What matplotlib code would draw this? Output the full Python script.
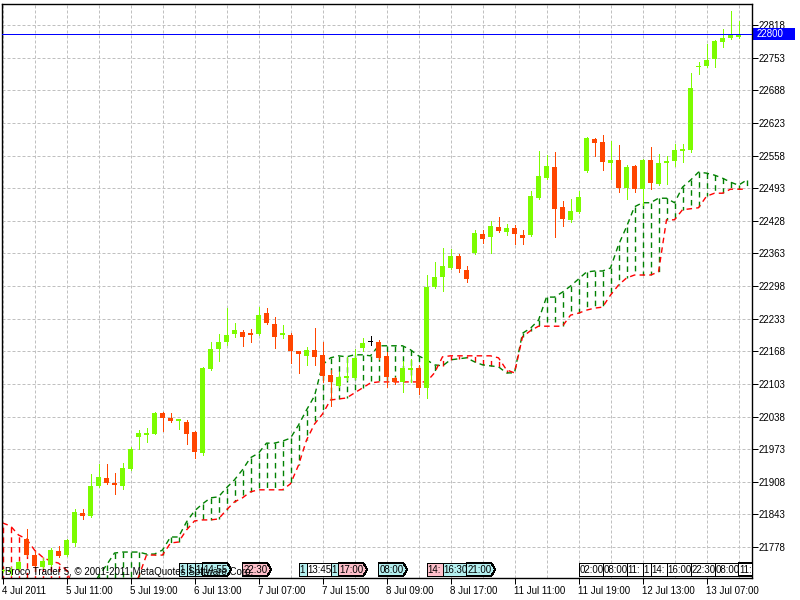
import numpy as np
import matplotlib.pyplot as plt
import matplotlib.transforms as mtransforms
from matplotlib.patches import Polygon, Rectangle

plt.rcParams['font.family'] = ['Liberation Sans', 'DejaVu Sans']

# H1 candles, 4 Jul 2011 .. 13 Jul 2011
opens = [21730, 21728, 21734, 21794, 21762, 21738, 21742, 21770, 21762, 21786,
         21846, 21840, 21900, 21916, 21906, 21900, 21934, 21997, 22001, 22003,
         22045, 22035, 22029, 22027, 22007, 21966, 22133, 22173, 22187, 22203,
         22206, 22205, 22203, 22244, 22222, 22201, 22201, 22169, 22159, 22171,
         22161, 22121, 22099, 22115, 22115, 22175, 22187, 22187, 22159, 22115,
         22107, 22131, 22135, 22095, 22296, 22316, 22334, 22358, 22330, 22364,
         22402, 22396, 22416, 22406, 22414, 22400, 22400, 22473, 22513, 22535,
         22456, 22430, 22446, 22527, 22591, 22585, 22543, 22549, 22493, 22537,
         22491, 22549, 22501, 22543, 22547, 22567, 22569, 22735, 22736, 22750,
         22784, 22792, 22794]
highs = [21734, 21738, 21750, 21814, 21770, 21756, 21776, 21780, 21794, 21854,
         21854, 21924, 21944, 21944, 21926, 21946, 21977, 22011, 22015, 22047,
         22047, 22045, 22033, 22031, 22009, 22137, 22187, 22203, 22254, 22224,
         22210, 22212, 22256, 22254, 22236, 22220, 22205, 22169, 22177, 22214,
         22187, 22131, 22127, 22157, 22173, 22195, 22199, 22191, 22167, 22117,
         22149, 22153, 22141, 22320, 22346, 22374, 22372, 22362, 22338, 22410,
         22410, 22428, 22436, 22422, 22420, 22410, 22487, 22567, 22559, 22565,
         22468, 22471, 22487, 22595, 22593, 22599, 22587, 22579, 22539, 22539,
         22551, 22575, 22561, 22557, 22581, 22581, 22723, 22744, 22780, 22788,
         22810, 22846, 22826]
lows = [21728, 21722, 21732, 21760, 21730, 21736, 21740, 21758, 21760, 21780,
        21834, 21838, 21898, 21904, 21884, 21894, 21932, 21973, 21987, 22003,
        22009, 22027, 22013, 21983, 21956, 21962, 22131, 22149, 22181, 22197,
        22179, 22187, 22201, 22222, 22175, 22195, 22145, 22125, 22141, 22141,
        22107, 22060, 22097, 22111, 22113, 22169, 22181, 22153, 22097, 22103,
        22087, 22107, 22083, 22075, 22294, 22288, 22332, 22326, 22306, 22362,
        22384, 22364, 22406, 22400, 22382, 22382, 22398, 22471, 22511, 22396,
        22418, 22426, 22444, 22525, 22557, 22529, 22511, 22485, 22471, 22485,
        22460, 22491, 22499, 22501, 22537, 22545, 22565, 22721, 22735, 22735,
        22774, 22790, 22793]
closes = [21732, 21732, 21748, 21762, 21740, 21750, 21772, 21760, 21792, 21848,
          21840, 21900, 21918, 21906, 21902, 21936, 21973, 22005, 22005, 22045,
          22035, 22029, 22033, 22003, 21968, 22135, 22173, 22187, 22201, 22211,
          22197, 22201, 22240, 22224, 22197, 22205, 22169, 22163, 22171, 22157,
          22119, 22107, 22117, 22119, 22155, 22185, 22187, 22155, 22117, 22107,
          22135, 22135, 22095, 22296, 22316, 22338, 22358, 22332, 22312, 22404,
          22392, 22418, 22408, 22414, 22402, 22394, 22477, 22517, 22537, 22452,
          22432, 22448, 22475, 22593, 22583, 22545, 22549, 22493, 22535, 22491,
          22549, 22503, 22543, 22547, 22569, 22571, 22693, 22737, 22748, 22786,
          22792, 22798, 22800]

# Ichimoku cloud (Senkou Span A / B), one value per bar
span_a = [21690, 21690, 21690, 21716, 21690, 21690, 21690, 21690, 21690, 21690,
          21690, 21690, 21720, 21742, 21766, 21768, 21768, 21768, 21764, 21764,
          21772, 21798, 21798, 21828, 21850, 21864, 21876, 21878, 21896, 21912,
          21932, 21956, 21965, 21985, 21985, 21989, 21995, 22021, 22051, 22079,
          22141, 22155, 22159, 22157, 22161, 22161, 22159, 22179, 22179, 22179,
          22179, 22171, 22159, 22151, 22141, 22139, 22151, 22153, 22155, 22147,
          22141, 22139, 22137, 22125, 22125, 22204, 22214, 22230, 22276, 22276,
          22286, 22298, 22312, 22326, 22328, 22328, 22334, 22380, 22416, 22456,
          22464, 22464, 22473, 22473, 22464, 22495, 22509, 22525, 22523, 22519,
          22513, 22505, 22499, 22509]
span_b = [21826, 21820, 21802, 21794, 21772, 21758, 21750, 21746, 21732, 21690,
          21690, 21690, 21690, 21690, 21690, 21690, 21690, 21718, 21762, 21762,
          21762, 21786, 21788, 21812, 21830, 21832, 21832, 21834, 21852, 21868,
          21876, 21888, 21892, 21892, 21892, 21892, 21904, 21941, 21991, 22023,
          22043, 22071, 22073, 22075, 22085, 22095, 22105, 22107, 22107, 22107,
          22107, 22107, 22107, 22107, 22125, 22157, 22159, 22159, 22159, 22159,
          22159, 22159, 22155, 22131, 22125, 22197, 22209, 22218, 22218, 22218,
          22218, 22240, 22244, 22250, 22254, 22256, 22280, 22300, 22314, 22320,
          22320, 22320, 22326, 22430, 22430, 22450, 22452, 22454, 22477, 22483,
          22483, 22491, 22491, 22491]

tick_bars = [0, 8, 16, 24, 32, 40, 48, 56, 64, 72, 80, 88]
tick_labels = ['4 Jul 2011', '5 Jul 11:00', '5 Jul 19:00', '6 Jul 13:00',
               '7 Jul 07:00', '7 Jul 15:00', '8 Jul 09:00', '8 Jul 17:00',
               '11 Jul 11:00', '11 Jul 19:00', '12 Jul 13:00', '13 Jul 07:00']
price_ticks = [21778 + 65 * i for i in range(17)]
last_price = 22800

# calendar events along the bottom
event_bars = [22, 23, 24, 25, 30, 37, 38, 41, 42, 47, 53, 55, 58,
              72, 75, 78, 80, 81, 83, 86, 89, 92]
event_text = ['1', '1', '1', '14:55', '22:30', '1', '13:45', '1', '17:00', '08:00',
              '14:', '16:30', '21:00', '02:00', '08:00', '11:', '1', '14:',
              '16:00', '22:30', '08:00', '11:']
event_kind = ['c', 'c', 'c', 'c', 'p', 'c', 'w', 'c', 'p', 'c', 'p', 'c', 'c',
              'w', 'w', 'w', 'w', 'w', 'w', 'w', 'w', 'w']
event_fill = {'c': '#B4F0F0', 'p': '#FFC0CB', 'w': '#FFFFFF'}

bull = '#7CFC00'
bear = '#FF4500'
px = 0.72  # one pixel in points
dash = (0, (4, 3))

fig = plt.figure(figsize=(8, 6), dpi=100)
ax = fig.add_axes([2 / 800, 22 / 600, 750 / 800, 574 / 600])
ax.set_xlim(-0.0625, 93.6875)
ax.set_ylim(21716.3, 22860)

# grid
ax.set_xticks(tick_bars)
ax.set_xticks(np.arange(0, 94, 4), minor=True)
ax.set_yticks(price_ticks)
ax.grid(True, which='both', color='#C0C0C0', linestyle=(0, (3, 2)), linewidth=px)
ax.set_axisbelow(True)

# cloud: hatching between the spans, then the span lines
k_cloud = np.arange(len(span_a))
a = np.array(span_a)
b = np.array(span_b)
hatch_col = ['#008000' if va >= vb else '#FF0000' for va, vb in zip(a, b)]
ax.vlines(k_cloud, a, b, colors=hatch_col, linestyles=dash,
          linewidth=1.0, zorder=2)
ax.plot(k_cloud, a, color='#008000', linestyle=dash, linewidth=1.0, zorder=2)
ax.plot(k_cloud, b, color='#FF0000', linestyle=dash, linewidth=1.0, zorder=2)

# candles
k = np.arange(len(opens))
o = np.array(opens)
c = np.array(closes)
cols = np.where(c > o, bull, np.where(c < o, bear, '#000000'))
ax.vlines(k, lows, highs, colors=cols, linewidth=px, antialiased=False, zorder=3)
body = np.abs(c - o)
ax.bar(k, np.maximum(body, 1.5), bottom=np.minimum(o, c), width=0.625,
       color=cols, linewidth=0, antialiased=False, zorder=4)

# last price line
ax.axhline(last_price, color='#0000FF', linewidth=px, zorder=5)
blend = mtransforms.blended_transform_factory(ax.transAxes, ax.transData)
ax.add_patch(Rectangle((1.0013, last_price - 12), 0.0565, 24, transform=blend,
                       facecolor='#0000FF', edgecolor='none', clip_on=False))
ax.text(1.006, last_price, str(last_price), transform=blend, color='white',
        fontsize=7, va='center', ha='left', clip_on=False)

# event flags
flag_tr = mtransforms.blended_transform_factory(ax.transData, ax.transAxes)
y0, y1 = 0.0035, 0.0261
for i, (eb, txt, kind) in enumerate(zip(event_bars, event_text, event_kind)):
    nxt = event_bars[i + 1] if i + 1 < len(event_bars) else None
    if nxt is not None and nxt - eb <= 3.6:
        pts = [(eb, y0), (nxt, y0), (nxt, y1), (eb, y1)]
    else:
        right = eb + 3.6
        pts = [(eb, y0), (right - 0.5, y0), (right, (y0 + y1) / 2),
               (right - 0.5, y1), (eb, y1)]
    poly = Polygon(pts, closed=True, transform=flag_tr, facecolor=event_fill[kind],
                   edgecolor='#000000', linewidth=px, zorder=6, antialiased=False)
    ax.add_patch(poly)
    t = ax.text(eb + 0.15, (y0 + y1) / 2, txt, transform=flag_tr, fontsize=7,
                va='center', ha='left', zorder=7)
    t.set_clip_path(poly)

ax.text(0.004, 0.002, 'Broco Trader 5, \u00a9 2001-2011 MetaQuotes Software Corp.',
        transform=ax.transAxes, fontsize=7, va='bottom', ha='left', zorder=8)

# axes styling
ax.yaxis.tick_right()
ax.set_yticklabels([str(p) for p in price_ticks])
ax.set_xticklabels(tick_labels, ha='left')
ax.tick_params(axis='y', which='major', length=4, width=px, pad=1, labelsize=7,
               direction='out')
ax.tick_params(axis='x', which='major', length=4, width=px, pad=2, labelsize=7,
               direction='out')
ax.tick_params(axis='x', which='minor', length=0)
for s in ax.spines.values():
    s.set_linewidth(1.0)
    s.set_color('#000000')

fig.savefig('out.png', dpi=100)
